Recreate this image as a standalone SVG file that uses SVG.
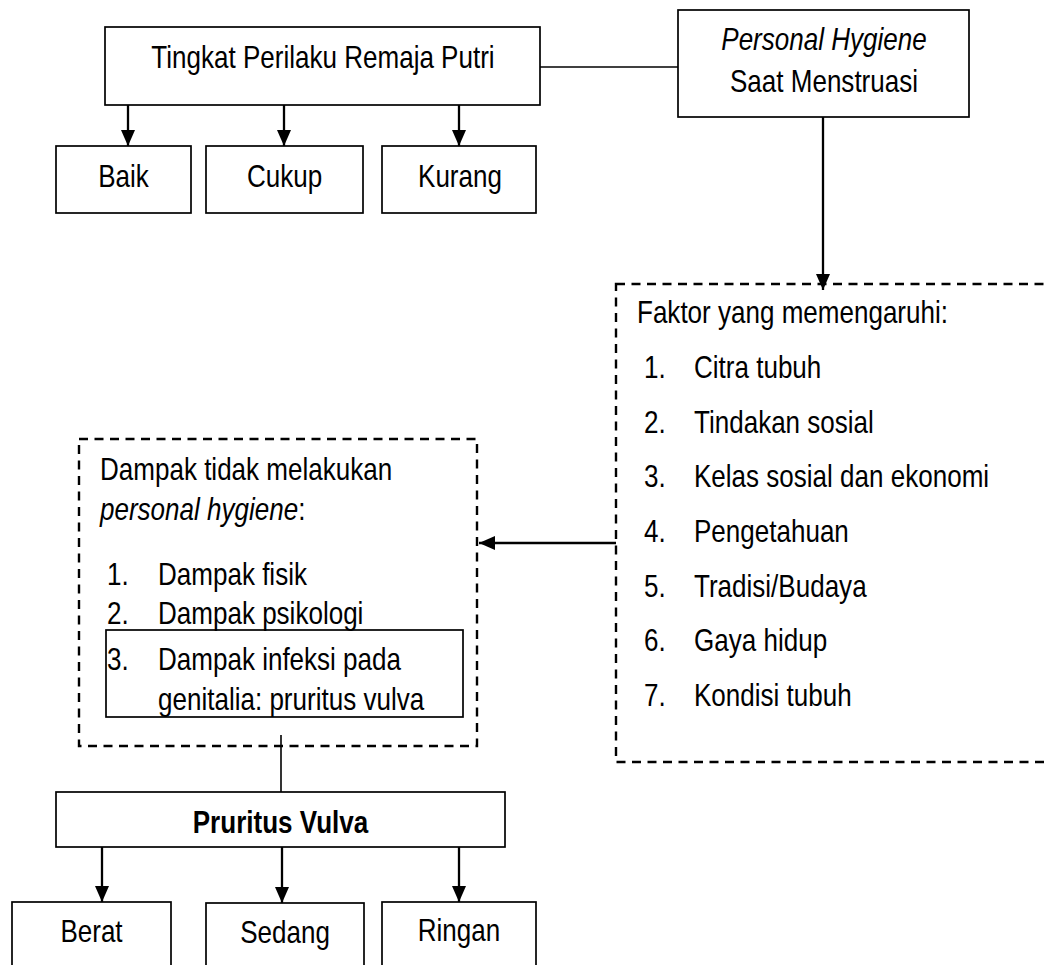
<svg xmlns="http://www.w3.org/2000/svg" width="1048" height="965" viewBox="0 0 1048 965">
<style>
  .box{fill:#fff;stroke:#000;stroke-width:1.7}
  .dash{fill:none;stroke:#000;stroke-width:2.4;stroke-dasharray:9 6.5}
  .t{font-family:"Liberation Sans",Arial,sans-serif;font-size:31px;fill:#000}
  .c{text-anchor:middle}
  .i{font-style:italic}
  .b{font-weight:bold}
  .arr{stroke:#000;stroke-width:2.3;fill:none;marker-end:url(#ah)}
  .ln{stroke:#000;stroke-width:1.6;fill:none}
</style>
<defs>
  <marker id="ah" markerUnits="userSpaceOnUse" markerWidth="16" markerHeight="14" viewBox="0 0 16 14" refX="16" refY="7" orient="auto">
    <path d="M0,0 L16,7 L0,14 z" fill="#000"/>
  </marker>
</defs>
<rect width="1048" height="965" fill="#fff"/>

<g id="connectors">
  <line class="ln" x1="540" y1="67" x2="678" y2="67"/>
  <line class="arr" x1="128" y1="105" x2="128" y2="146"/>
  <line class="arr" x1="284" y1="105" x2="284" y2="146"/>
  <line class="arr" x1="459" y1="105" x2="459" y2="146"/>
  <line class="arr" x1="823" y1="117" x2="823" y2="290"/>
  <line class="arr" x1="616" y1="543" x2="479" y2="543"/>
  <line class="ln" x1="281" y1="735" x2="281" y2="792"/>
  <line class="arr" x1="102" y1="847" x2="102" y2="902"/>
  <line class="arr" x1="282" y1="847" x2="282" y2="903"/>
  <line class="arr" x1="459" y1="847" x2="459" y2="902"/>
</g>

<g id="tingkat">
  <rect class="box" x="105" y="27" width="435" height="78"/>
  <text class="t c" transform="translate(323 68) scale(0.84 1)">Tingkat Perilaku Remaja Putri</text>
</g>
<g id="baik">
  <rect class="box" x="56" y="146" width="135" height="67"/>
  <text class="t c" transform="translate(123.5 187) scale(0.84 1)">Baik</text>
</g>
<g id="cukup">
  <rect class="box" x="206" y="146" width="157" height="67"/>
  <text class="t c" transform="translate(284.5 187) scale(0.84 1)">Cukup</text>
</g>
<g id="kurang">
  <rect class="box" x="382" y="146" width="154" height="67"/>
  <text class="t c" transform="translate(460 187) scale(0.84 1)">Kurang</text>
</g>

<g id="personal-hygiene">
  <rect class="box" x="678" y="10" width="291" height="107"/>
  <text class="t c i" transform="translate(824 50) scale(0.84 1)">Personal Hygiene</text>
  <text class="t c" transform="translate(824 92) scale(0.84 1)">Saat Menstruasi</text>
</g>

<g id="faktor">
  <rect class="dash" x="616" y="284" width="440" height="478"/>
  <text class="t" transform="translate(637 323) scale(0.84 1)">Faktor yang memengaruhi:</text>
  <text class="t" transform="translate(644 378) scale(0.84 1)">1.</text><text class="t" transform="translate(694 378) scale(0.84 1)">Citra tubuh</text>
  <text class="t" transform="translate(644 433) scale(0.84 1)">2.</text><text class="t" transform="translate(694 433) scale(0.84 1)">Tindakan sosial</text>
  <text class="t" transform="translate(644 487) scale(0.84 1)">3.</text><text class="t" transform="translate(694 487) scale(0.84 1)">Kelas sosial dan ekonomi</text>
  <text class="t" transform="translate(644 542) scale(0.84 1)">4.</text><text class="t" transform="translate(694 542) scale(0.84 1)">Pengetahuan</text>
  <text class="t" transform="translate(644 597) scale(0.84 1)">5.</text><text class="t" transform="translate(694 597) scale(0.84 1)">Tradisi/Budaya</text>
  <text class="t" transform="translate(644 651) scale(0.84 1)">6.</text><text class="t" transform="translate(694 651) scale(0.84 1)">Gaya hidup</text>
  <text class="t" transform="translate(644 706) scale(0.84 1)">7.</text><text class="t" transform="translate(694 706) scale(0.84 1)">Kondisi tubuh</text>
</g>

<g id="dampak">
  <rect class="dash" x="79" y="439" width="398" height="307"/>
  <text class="t" transform="translate(100 480) scale(0.84 1)">Dampak tidak melakukan</text>
  <text class="t" transform="translate(100 520) scale(0.84 1)"><tspan class="i">personal hygiene</tspan>:</text>
  <text class="t" transform="translate(107 585) scale(0.84 1)">1.</text><text class="t" transform="translate(158 585) scale(0.84 1)">Dampak fisik</text>
  <text class="t" transform="translate(107 624) scale(0.84 1)">2.</text><text class="t" transform="translate(158 624) scale(0.84 1)">Dampak psikologi</text>
  <rect x="106" y="630" width="357" height="87" fill="none" stroke="#000" stroke-width="1.7"/>
  <text class="t" transform="translate(107 670) scale(0.84 1)">3.</text><text class="t" transform="translate(158 670) scale(0.84 1)">Dampak infeksi pada</text>
  <text class="t" transform="translate(158 710) scale(0.84 1)">genitalia: pruritus vulva</text>
</g>

<g id="pruritus">
  <rect class="box" x="56" y="792" width="449" height="55"/>
  <text class="t c b" transform="translate(280.5 833) scale(0.84 1)">Pruritus Vulva</text>
</g>
<g id="berat">
  <rect class="box" x="12" y="902" width="159" height="80"/>
  <text class="t c" transform="translate(91.5 942) scale(0.84 1)">Berat</text>
</g>
<g id="sedang">
  <rect class="box" x="206" y="903" width="158" height="80"/>
  <text class="t c" transform="translate(285 943) scale(0.84 1)">Sedang</text>
</g>
<g id="ringan">
  <rect class="box" x="382" y="902" width="154" height="80"/>
  <text class="t c" transform="translate(459 941) scale(0.84 1)">Ringan</text>
</g>
</svg>
